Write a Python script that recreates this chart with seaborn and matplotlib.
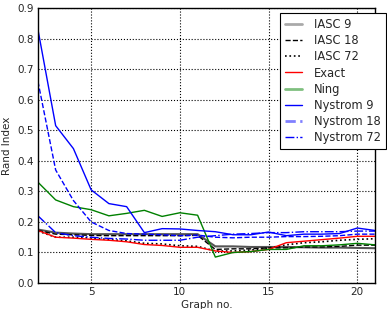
import pandas as pd
import seaborn as sns
import matplotlib.pyplot as plt

graphs = list(range(2, 22))

iasc_9 = [0.175, 0.165, 0.162, 0.160, 0.160, 0.160, 0.160, 0.160, 0.160, 0.160,
          0.120, 0.120, 0.118, 0.118, 0.118, 0.117, 0.116, 0.116, 0.115, 0.114]
iasc_18 = [0.172, 0.160, 0.158, 0.156, 0.155, 0.155, 0.155, 0.155, 0.155, 0.156,
           0.110, 0.112, 0.112, 0.115, 0.115, 0.118, 0.118, 0.120, 0.124, 0.124]
iasc_72 = [0.170, 0.150, 0.150, 0.148, 0.142, 0.138, 0.130, 0.128, 0.122, 0.120,
           0.105, 0.105, 0.108, 0.115, 0.125, 0.132, 0.135, 0.140, 0.143, 0.145]
exact = [0.172, 0.150, 0.147, 0.143, 0.140, 0.135, 0.126, 0.123, 0.117, 0.117,
         0.105, 0.100, 0.103, 0.110, 0.132, 0.137, 0.142, 0.147, 0.153, 0.153]
ning = [0.330, 0.272, 0.250, 0.240, 0.220, 0.228, 0.238, 0.218, 0.230, 0.222,
        0.085, 0.100, 0.103, 0.110, 0.110, 0.122, 0.122, 0.125, 0.130, 0.125]
nystrom_9 = [0.830, 0.515, 0.440, 0.305, 0.260, 0.250, 0.165, 0.178, 0.177, 0.172,
             0.168, 0.158, 0.158, 0.167, 0.155, 0.160, 0.160, 0.162, 0.180, 0.172]
nystrom_18 = [0.660, 0.370, 0.270, 0.200, 0.172, 0.162, 0.160, 0.158, 0.155, 0.157,
              0.150, 0.148, 0.150, 0.150, 0.152, 0.152, 0.153, 0.155, 0.160, 0.160]
nystrom_72 = [0.220, 0.165, 0.155, 0.150, 0.146, 0.144, 0.140, 0.140, 0.140, 0.150,
              0.155, 0.160, 0.162, 0.165, 0.165, 0.168, 0.168, 0.168, 0.170, 0.170]

series = [
    ('IASC 9', iasc_9, '#555555', '-', 1.5),
    ('IASC 18', iasc_18, 'black', '--', 1.0),
    ('IASC 72', iasc_72, 'black', ':', 1.2),
    ('Exact', exact, 'red', '-', 1.0),
    ('Ning', ning, 'green', '-', 1.0),
    ('Nystrom 9', nystrom_9, 'blue', '-', 1.0),
    ('Nystrom 18', nystrom_18, 'blue', '--', 1.0),
    ('Nystrom 72', nystrom_72, 'blue', '-.', 1.0),
]

sns.set_style('white')
plt.rcParams['font.family'] = ['DejaVu Sans']
plt.rcParams['xtick.direction'] = 'in'
plt.rcParams['ytick.direction'] = 'in'

fig = plt.figure(figsize=(3.87, 3.09), dpi=100)
ax = fig.add_axes([0.098, 0.084, 0.871, 0.89])

for name, vals, color, ls, lw in series:
    df = pd.DataFrame({'graph': graphs, 'ri': vals})
    sns.lineplot(data=df, x='graph', y='ri', ax=ax, color=color, linestyle=ls,
                 linewidth=lw, label=name)

ax.set_xlim(2, 21)
ax.set_ylim(0, 0.9)
ax.set_xticks([5, 10, 15, 20])
ax.set_yticks([i / 10 for i in range(10)])
ax.set_yticklabels([f'{i / 10:.1f}' for i in range(10)])
ax.tick_params(labelsize=7.5, length=3, width=0.8, pad=3)
ax.grid(True, color='black', linestyle=':', linewidth=0.8)
for s in ax.spines.values():
    s.set_color('black')
    s.set_linewidth(1.0)
ax.set_xlabel('Graph no.', fontsize=7.5, labelpad=2)
ax.set_ylabel('Rand Index', fontsize=7.5, labelpad=4)

leg = ax.legend(loc='upper right', bbox_to_anchor=(1.032, 0.982), borderaxespad=0,
                fontsize=8.3, fancybox=False, framealpha=1, edgecolor='black',
                handlelength=1.5, handletextpad=1.0, borderpad=0.45,
                labelspacing=0.27)
leg.get_frame().set_linewidth(0.8)
# lighter, thicker handles as in the original legend
for h in leg.get_lines():
    if h.get_label() in ('IASC 9', 'Ning', 'Nystrom 18'):
        h.set_alpha(0.5)
        h.set_linewidth(2)

plt.savefig('out.png', dpi=100)
plt.close()
